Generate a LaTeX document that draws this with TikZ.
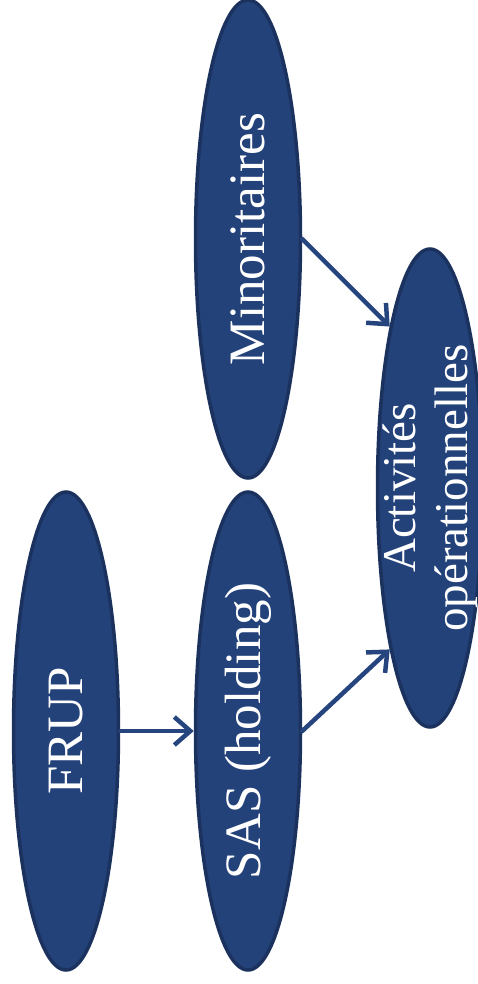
\documentclass[tikz,border=0pt]{standalone}
\usepackage{fontspec}
\setmainfont{Liberation Serif}
\usetikzlibrary{shapes.geometric,arrows.meta}
\definecolor{bleufond}{RGB}{36,66,122}
\definecolor{bleubord}{RGB}{27,50,94}
\definecolor{bleufleche}{RGB}{38,68,126}
\begin{document}
\begin{tikzpicture}[x=1pt,y=1pt,
	bulle/.style={ellipse,draw=bleubord,line width=3.5pt,fill=bleufond,minimum width=105pt,minimum height=478pt,inner sep=0pt},
	texte/.style={text=white,rotate=90,align=center,font=\fontsize{51}{53}\selectfont},
	fleche/.style={-{Straight Barb[length=16pt,width=28pt]},line width=4.5pt,line cap=round,line join=round,draw=bleufleche}]
		\useasboundingbox (0,0) rectangle (477,-984);

		% les bulles
		\node[bulle] (frup) at (66,-731) {};
		\node[bulle] (sas) at (248,-731) {};
		\node[bulle] (mino) at (248,-239) {};
		\node[bulle] (activ) at (430,-488) {};

		% les textes
		\node[texte] (tfrup) at (frup.center) {FRUP};
		\node[texte] (tsas) at (sas.center) {SAS (holding)};
		\node[texte] (tmino) at (mino.center) {Minoritaires};
		\node[texte,font=\fontsize{47}{52}\selectfont] (tactiv) at (activ.center) {Activités\\opérationnelles};

		% les fleches
		\draw[fleche] (frup.east) -- (sas.west);
		\draw[fleche] (sas.east) -- (activ.256);
		\draw[fleche] (mino.east) -- (activ.104);
\end{tikzpicture}
\end{document}
